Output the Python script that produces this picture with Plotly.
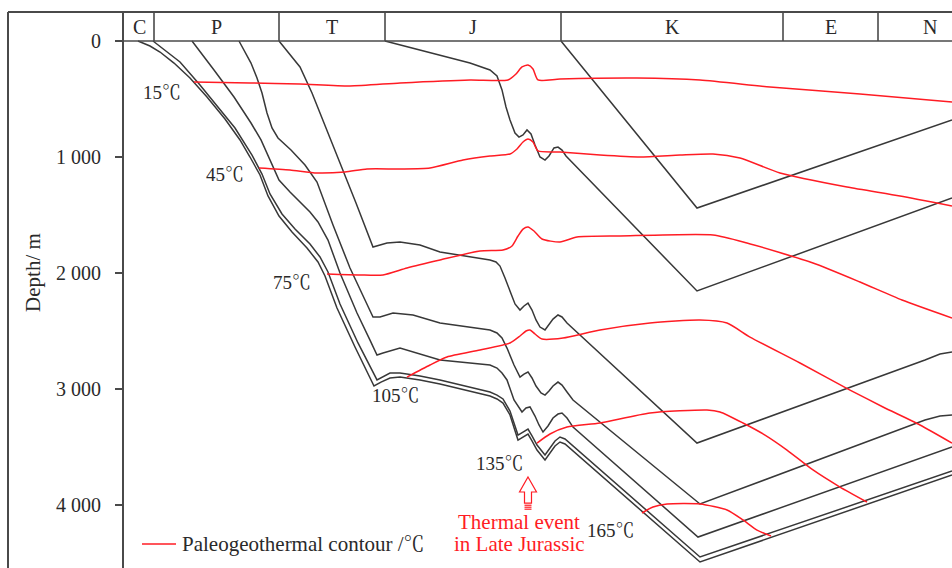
import plotly.graph_objects as go

# ---------------- data ----------------
# x: relative geological time units (left = Carboniferous, right = present)
# y: burial depth in metres
periods = ["C", "P", "T", "J", "K", "E", "N"]
period_start = [0, 30, 155, 261, 437, 659, 754]
period_end = [30, 155, 261, 437, 659, 754, 858]

depth_ticks = [0, 1000, 2000, 3000, 4000]
depth_tick_labels = ["0", "1 000", "2 000", "3 000", "4 000"]

# burial-history curves (one per stratigraphic horizon)
burial_A_t = [437, 573, 828]
burial_A_depth = [0, 1440, 681]

burial_B_t = [261, 296, 346, 366, 373, 378, 382, 386, 391, 395, 399, 403, 407, 411, 416, 421, 425, 430, 434, 438, 442, 573, 828]
burial_B_depth = [0, 78, 190, 250, 302, 422, 569, 681, 793, 828, 810, 767, 802, 897, 1000, 1026, 991, 922, 914, 940, 991, 2155, 1353]

burial_C_t = [155, 165, 176, 188, 199, 216, 232, 249, 256, 263, 276, 296, 316, 366, 372, 376, 381, 386, 391, 396, 400, 404, 408, 412, 416, 421, 425, 429, 434, 438, 443, 573, 801, 816, 828]
burial_C_depth = [0, 103, 224, 448, 681, 1043, 1397, 1776, 1759, 1741, 1733, 1759, 1819, 1888, 1905, 1940, 2043, 2164, 2267, 2319, 2284, 2259, 2319, 2405, 2466, 2491, 2448, 2397, 2362, 2379, 2431, 3466, 2750, 2698, 2681]

burial_D_t = [115, 121, 127, 133, 138, 143, 148, 154, 167, 181, 193, 209, 226, 241, 249, 256, 269, 289, 316, 366, 373, 378, 383, 390, 396, 400, 404, 408, 412, 417, 421, 425, 429, 434, 438, 443, 449, 576, 801, 816, 828]
burial_D_depth = [0, 95, 190, 319, 448, 621, 750, 836, 940, 1069, 1216, 1586, 1957, 2233, 2379, 2379, 2345, 2362, 2431, 2491, 2517, 2560, 2647, 2793, 2897, 2871, 2853, 2905, 2974, 3034, 3052, 3017, 2974, 2940, 2966, 3026, 3095, 3991, 3267, 3233, 3224]

burial_E_t = [68, 79, 90, 110, 127, 137, 147, 155, 166, 176, 186, 194, 204, 216, 233, 246, 253, 259, 276, 316, 366, 373, 378, 383, 390, 398, 402, 406, 411, 415, 419, 424, 429, 434, 438, 443, 449, 574, 828]
burial_E_depth = [0, 121, 250, 483, 707, 853, 1043, 1198, 1302, 1388, 1474, 1560, 1716, 2000, 2345, 2578, 2707, 2690, 2647, 2750, 2793, 2819, 2862, 2922, 3095, 3198, 3164, 3155, 3233, 3310, 3371, 3319, 3250, 3216, 3207, 3250, 3328, 4276, 3500]

burial_F_t = [14, 26, 36, 50, 66, 83, 101, 116, 126, 136, 144, 155, 168, 183, 194, 201, 213, 231, 250, 257, 266, 276, 296, 316, 366, 373, 379, 386, 394, 399, 404, 408, 413, 421, 426, 431, 436, 441, 576, 828]
burial_F_depth = [0, 43, 95, 190, 319, 483, 672, 853, 1000, 1155, 1336, 1509, 1647, 1784, 1905, 2026, 2302, 2638, 2974, 2940, 2905, 2897, 2922, 2957, 3060, 3086, 3121, 3224, 3440, 3414, 3388, 3448, 3526, 3612, 3552, 3491, 3457, 3474, 4491, 3741]

burial_G_t = [29, 41, 56, 76, 91, 111, 128, 138, 146, 158, 171, 186, 196, 204, 216, 234, 253, 260, 266, 276, 296, 316, 366, 373, 379, 386, 394, 399, 404, 408, 413, 421, 426, 431, 436, 441, 576, 828]
burial_G_depth = [0, 78, 181, 379, 534, 750, 983, 1147, 1319, 1491, 1621, 1750, 1862, 1991, 2267, 2603, 2922, 2888, 2862, 2862, 2888, 2922, 3026, 3052, 3086, 3190, 3397, 3371, 3345, 3405, 3483, 3569, 3509, 3448, 3414, 3431, 4448, 3707]

# paleogeothermal contours
iso15_t = [70, 126, 176, 226, 276, 346, 384, 392, 398, 404, 409, 414, 436, 513, 576, 646, 736, 828]
iso15_depth = [353, 362, 371, 388, 362, 336, 336, 284, 224, 207, 241, 336, 328, 319, 336, 397, 457, 526]

iso45_t = [135, 166, 193, 221, 243, 276, 306, 339, 366, 386, 393, 399, 404, 409, 414, 436, 476, 516, 556, 589, 616, 656, 723, 776, 828]
iso45_depth = [1095, 1112, 1138, 1129, 1103, 1103, 1095, 1026, 991, 974, 931, 871, 845, 871, 948, 957, 983, 1000, 983, 974, 1009, 1138, 1259, 1336, 1422]

iso75_t = [203, 236, 259, 283, 316, 356, 379, 388, 394, 399, 404, 410, 418, 436, 453, 496, 589, 623, 689, 736, 778, 828]
iso75_depth = [2009, 2017, 2017, 1957, 1888, 1810, 1802, 1767, 1681, 1621, 1603, 1638, 1707, 1733, 1690, 1681, 1672, 1741, 1914, 2078, 2233, 2388]

iso105_t = [283, 306, 323, 356, 386, 396, 402, 406, 411, 418, 439, 476, 526, 576, 603, 626, 676, 726, 759, 796, 828]
iso105_depth = [2897, 2793, 2724, 2664, 2603, 2543, 2500, 2491, 2526, 2569, 2560, 2491, 2431, 2405, 2431, 2552, 2776, 3009, 3155, 3310, 3466]

iso135_t = [413, 426, 443, 476, 526, 583, 596, 619, 641, 663, 689, 716, 743]
iso135_depth = [3466, 3388, 3328, 3293, 3207, 3181, 3198, 3293, 3397, 3526, 3698, 3845, 3974]

iso165_t = [518, 529, 543, 576, 603, 619, 633, 647]
iso165_depth = [4069, 4017, 3991, 3991, 4043, 4129, 4216, 4267]

iso_labels = ["15℃", "45℃", "75℃", "105℃", "135℃", "165℃"]
iso_label_t = [38, 101, 168, 272, 376, 487]
iso_label_depth = [448, 1155, 2078, 3052, 3638, 4216]

thermal_event_t = 404
thermal_event_text = ["Thermal event", "in Late Jurassic"]
legend_text = "Paleogeothermal contour /℃"
y_title = "Depth/ m"

# ---------------- style ----------------
BLACK = "#383838"
RED = "#ff1c24"
FRAME = "#4a4a4a"
TXT = "#2a2a2a"
FONT = "Liberation Serif, Times New Roman, Noto Serif CJK SC, Noto Sans CJK SC, serif"
T_MAX = 828
D_TOP, D_BOTTOM = -250, 4543

fig = go.Figure()

burials = [
    (burial_A_t, burial_A_depth), (burial_B_t, burial_B_depth),
    (burial_C_t, burial_C_depth), (burial_D_t, burial_D_depth),
    (burial_E_t, burial_E_depth), (burial_F_t, burial_F_depth),
    (burial_G_t, burial_G_depth),
]
for t, d in burials:
    fig.add_trace(go.Scatter(x=t, y=d, mode="lines",
                             line=dict(color=BLACK, width=1.5, shape="linear"),
                             hoverinfo="skip"))

isos = [
    (iso15_t, iso15_depth), (iso45_t, iso45_depth), (iso75_t, iso75_depth),
    (iso105_t, iso105_depth), (iso135_t, iso135_depth), (iso165_t, iso165_depth),
]
for t, d in isos:
    fig.add_trace(go.Scatter(x=t, y=d, mode="lines",
                             line=dict(color=RED, width=1.5, shape="spline", smoothing=0.6),
                             hoverinfo="skip"))

# legend sample line
legend_sample_t = [18, 52]
legend_depth = 4336
fig.add_trace(go.Scatter(x=legend_sample_t, y=[legend_depth, legend_depth], mode="lines",
                         line=dict(color=RED, width=1.5), hoverinfo="skip"))

annotations = []
for txt, t, d in zip(iso_labels, iso_label_t, iso_label_depth):
    annotations.append(dict(x=t, y=d, xref="x", yref="y", text=txt, showarrow=False,
                            font=dict(family=FONT, size=19, color=TXT),
                            xanchor="center", yanchor="middle"))

# period header labels
for name, s, e in zip(periods, period_start, period_end):
    annotations.append(dict(x=(s + e) / 2, y=-125, xref="x", yref="y", text=name,
                            showarrow=False, font=dict(family=FONT, size=20, color=TXT),
                            xanchor="center", yanchor="middle"))

# thermal event text
annotations.append(dict(x=thermal_event_t - 9, y=4147, xref="x", yref="y",
                        text=thermal_event_text[0], showarrow=False,
                        font=dict(family=FONT, size=21, color=RED),
                        xanchor="center", yanchor="middle"))
annotations.append(dict(x=thermal_event_t - 9, y=4336, xref="x", yref="y",
                        text=thermal_event_text[1], showarrow=False,
                        font=dict(family=FONT, size=21, color=RED),
                        xanchor="center", yanchor="middle"))

# legend text
annotations.append(dict(x=legend_sample_t[1] + 4, y=legend_depth, xref="x", yref="y",
                        text=legend_text, showarrow=False,
                        font=dict(family=FONT, size=21, color=TXT),
                        xanchor="left", yanchor="middle"))

# y title
annotations.append(dict(x=-0.11, y=1991, xref="paper", yref="y", text=y_title,
                        textangle=-90, showarrow=False,
                        font=dict(family=FONT, size=21, color=TXT),
                        xanchor="center", yanchor="middle"))

shapes = []
# outer frame (top & left)
frame_left = -116 / 828
shapes.append(dict(type="line", xref="paper", yref="paper", x0=frame_left, x1=1.01,
                   y0=1, y1=1, line=dict(color=FRAME, width=2)))
shapes.append(dict(type="line", xref="paper", yref="paper", x0=frame_left, x1=frame_left,
                   y0=-0.01, y1=1, line=dict(color=FRAME, width=2)))
# header bottom line
shapes.append(dict(type="line", xref="paper", yref="y", x0=0, x1=1.01, y0=0, y1=0,
                   line=dict(color=FRAME, width=1.6)))
# period dividers
for b in period_end[:-1]:
    shapes.append(dict(type="line", xref="x", yref="y", x0=b, x1=b, y0=D_TOP, y1=0,
                       line=dict(color=FRAME, width=1.6)))

# hollow arrow marking the thermal event
a = thermal_event_t
tip, head_base, shaft_bottom = 3759, 3888, 3983
hw, sw = 8.5, 3.5
path = (f"M {a} {tip} L {a + hw} {head_base} L {a + sw} {head_base} L {a + sw} {shaft_bottom} "
        f"L {a - sw} {shaft_bottom} L {a - sw} {head_base} L {a - hw} {head_base} Z")
shapes.append(dict(type="path", xref="x", yref="y", path=path,
                   line=dict(color=RED, width=1.2), fillcolor="white"))
for dd in [4002, 4019, 4036]:
    shapes.append(dict(type="line", xref="x", yref="y", x0=a - sw, x1=a + sw, y0=dd, y1=dd,
                       line=dict(color=RED, width=1.2)))

fig.update_layout(
    width=952, height=568,
    margin=dict(l=124, r=0, t=12, b=0, pad=0),
    paper_bgcolor="white", plot_bgcolor="white",
    showlegend=False,
    annotations=annotations, shapes=shapes,
    xaxis=dict(range=[0, T_MAX], visible=False, fixedrange=True),
    yaxis=dict(range=[D_BOTTOM, D_TOP], tickvals=depth_ticks, ticktext=depth_tick_labels,
               ticks="outside", ticklen=7, tickwidth=1.5, tickcolor=FRAME,
               showline=True, linecolor=FRAME, linewidth=2, showgrid=False, zeroline=False,
               tickfont=dict(family=FONT, size=20, color=TXT), ticklabelstandoff=10,
               fixedrange=True),
)

fig.write_html("out.html")
